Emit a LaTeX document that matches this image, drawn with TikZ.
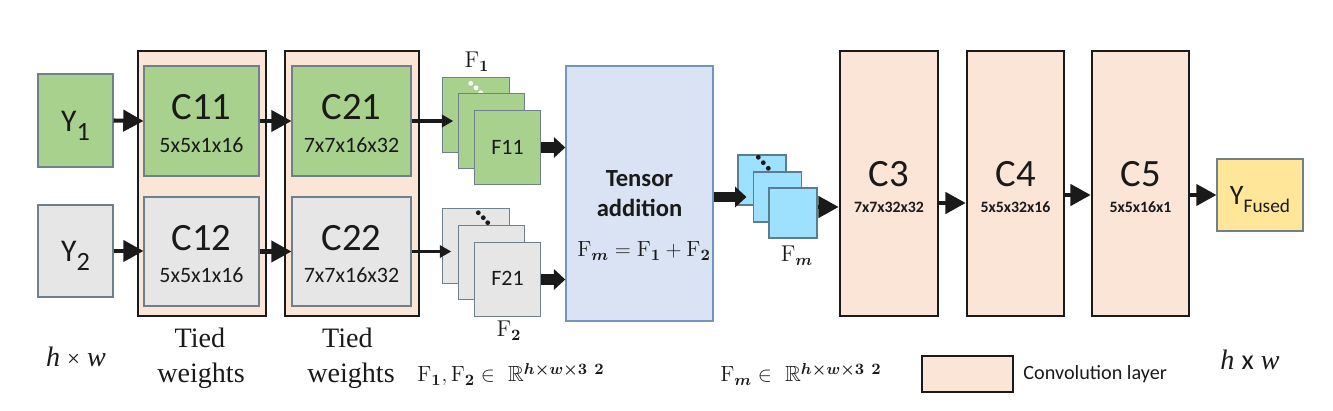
\documentclass[tikz,border=0pt]{standalone}
\usepackage{amsmath}
\usepackage{amssymb}
\usepackage{fontspec}
\usetikzlibrary{arrows.meta}
\newfontfamily\calibri{Carlito}
\newfontfamily\timesish{Liberation Serif}
\definecolor{netink}{HTML}{1A1A1A}
\definecolor{edgegray}{HTML}{6F7F8C}
\definecolor{inputgreen}{HTML}{A9D18E}
\definecolor{inputgray}{HTML}{E7E6E6}
\definecolor{convpeach}{HTML}{FBE5D6}
\definecolor{addblue}{HTML}{DAE3F3}
\definecolor{addedge}{HTML}{7393C0}
\definecolor{mapcyan}{HTML}{9DE1FE}
\definecolor{mapedge}{HTML}{5B7D91}
\definecolor{fusedyellow}{HTML}{FFE699}
\newcommand{\sansat}[1]{\calibri\fontsize{#1}{#1}\selectfont}
\newcommand{\serifat}[1]{\fontsize{#1}{#1}\selectfont}
\newcommand{\timesat}[1]{\timesish\fontsize{#1}{#1}\selectfont}
\newcommand{\Fsub}[1]{\mathrm{F}_{\boldsymbol{#1}}}

\begin{document}
\begin{tikzpicture}[
  x=0.02cm,
  y=-0.02cm,
  every node/.style={netink},
  box/.style={draw=edgegray, line width=0.6pt, inner sep=0pt},
  tied/.style={draw=netink, line width=1.5pt, fill=convpeach, inner sep=0pt},
  sheet/.style={draw=edgegray, line width=0.6pt, inner sep=0pt,
    minimum width=1.33cm, minimum height=1.49cm},
  fmsheet/.style={draw=mapedge, line width=0.6pt, fill=mapcyan, inner sep=0pt,
    minimum width=0.96cm, minimum height=1.0cm},
  txt/.style={anchor=base, inner sep=0pt},
  conn/.style={netink, line width=2.3pt, -{Triangle[length=11.5pt, width=12pt]}},
  thinconn/.style={netink, line width=2pt, -{Triangle[length=6.5pt, width=7pt]}},
  blockconn/.style={netink, line width=6pt, -{Triangle[length=6.5pt, width=11.5pt]}}
]
  \useasboundingbox (0,0) rectangle (1333,411);

  % ================= inputs =============================================
  \node[box, fill=inputgreen, minimum width=1.50cm, minimum height=1.86cm]
    (Y1) at (75.5,120.5) {};
  \node[box, fill=inputgray, minimum width=1.50cm, minimum height=1.84cm]
    (Y2) at (75.5,251) {};
  \node[txt, font=\sansat{18}] (Y1lbl) at (75.5,132)
    {Y\raisebox{-5pt}{\fontsize{15}{15}\selectfont 1}};
  \node[txt, font=\sansat{18}] (Y2lbl) at (75.5,262)
    {Y\raisebox{-5pt}{\fontsize{15}{15}\selectfont 2}};

  % ================= tied convolution pairs =============================
  \node[tied, minimum width=2.56cm, minimum height=5.30cm] (G1) at (202,183.5) {};
  \node[tied, minimum width=2.68cm, minimum height=5.30cm] (G2) at (352,183.5) {};

  \node[box, fill=inputgreen, minimum width=2.30cm, minimum height=2.20cm]
    (C11) at (201.5,121) {};
  \node[box, fill=inputgray, minimum width=2.30cm, minimum height=2.18cm]
    (C12) at (201.5,251.5) {};
  \node[box, fill=inputgreen, minimum width=2.38cm, minimum height=2.20cm]
    (C21) at (351.5,121) {};
  \node[box, fill=inputgray, minimum width=2.38cm, minimum height=2.18cm]
    (C22) at (351.5,251.5) {};

  \node[txt, font=\sansat{22}] (C11name) at (201.5,120) {C11};
  \node[txt, font=\sansat{12.5}] (C11dim) at (201.5,153) {5x5x1x16};
  \node[txt, font=\sansat{22}] (C12name) at (201.5,251) {C12};
  \node[txt, font=\sansat{12.5}] (C12dim) at (201.5,283) {5x5x1x16};
  \node[txt, font=\sansat{22}] (C21name) at (351.5,120) {C21};
  \node[txt, font=\sansat{12.5}] (C21dim) at (351.5,153) {7x7x16x32};
  \node[txt, font=\sansat{22}] (C22name) at (351.5,251) {C22};
  \node[txt, font=\sansat{12.5}] (C22dim) at (351.5,283) {7x7x16x32};

  % ================= feature map stacks =================================
  \node[sheet, fill=inputgreen] (F1a) at (476,115) {};
  \foreach \p in {(470.7,83.3), (476,87.8), (480.7,92.7)}
    \fill[white] \p circle (0.048cm);
  \node[sheet, fill=inputgreen] (F1b) at (491.5,131) {};
  \node[sheet, fill=inputgreen] (F1c) at (507.5,147.5) {};
  \node[txt, font=\sansat{12.5}] (F11lbl) at (507.5,155) {F11};

  \node[sheet, fill=inputgray] (F2a) at (476,246) {};
  \foreach \p in {(478.3,212.7), (483.3,217.7), (487.7,222.7)}
    \fill[netink] \p circle (0.048cm);
  \node[sheet, fill=inputgray] (F2b) at (491.5,262.5) {};
  \node[sheet, fill=inputgray] (F2c) at (507.5,279.5) {};
  \node[txt, font=\sansat{12.5}] (F21lbl) at (507.5,286) {F21};

  \node[txt, font=\serifat{13}] (F1lbl) at (477,68) {$\Fsub{1}$};
  \node[txt, font=\serifat{13}] (F2lbl) at (509,337) {$\Fsub{2}$};

  % ================= tensor addition ====================================
  \node[draw=addedge, line width=0.8pt, fill=addblue, inner sep=0pt,
        minimum width=2.94cm, minimum height=5.10cm] (T) at (639.5,193.5) {};
  \node[txt, font=\sansat{14}\bfseries] (Tline1) at (639.5,187) {Tensor};
  \node[txt, font=\sansat{14}\bfseries] (Tline2) at (639.5,217) {addition};
  \node[txt, font=\serifat{12.5}] (Tsum) at (644,257)
    {$\Fsub{m} = \Fsub{1} + \Fsub{2}$};

  % ================= fused maps =========================================
  \node[fmsheet] (Fma) at (762,180) {};
  \foreach \p in {(758.3,157.3), (763.3,162.7), (768.3,168.3)}
    \fill[netink] \p circle (0.048cm);
  \node[fmsheet] (Fmb) at (777.5,197) {};
  \node[fmsheet] (Fmc) at (793,213) {};
  \node[txt, font=\serifat{13}] (Fmlbl) at (797,262) {$\Fsub{m}$};

  % ================= reconstruction layers ==============================
  \node[tied, minimum width=1.96cm, minimum height=5.30cm] (C3) at (889,183.5) {};
  \node[tied, minimum width=1.94cm, minimum height=5.30cm] (C4) at (1015.5,183.5) {};
  \node[tied, minimum width=1.94cm, minimum height=5.30cm] (C5) at (1140.5,183.5) {};
  \node[txt, font=\sansat{22}] (C3name) at (889,187) {C3};
  \node[txt, font=\sansat{9}\bfseries] (C3dim) at (889,213) {7x7x32x32};
  \node[txt, font=\sansat{22}] (C4name) at (1015.5,187) {C4};
  \node[txt, font=\sansat{9}\bfseries] (C4dim) at (1015.5,213) {5x5x32x16};
  \node[txt, font=\sansat{22}] (C5name) at (1140.5,187) {C5};
  \node[txt, font=\sansat{9}\bfseries] (C5dim) at (1140.5,213) {5x5x16x1};

  \node[box, fill=fusedyellow, minimum width=1.72cm, minimum height=1.44cm]
    (YF) at (1260,195) {};
  \node[txt, font=\sansat{16}] (YFlbl) at (1260,205)
    {Y\raisebox{-4pt}{\fontsize{11}{11}\selectfont Fused}};

  % ================= connectors =========================================
  \draw[conn] (Y1.east) -- (C11.west);
  \draw[conn] (Y2.east) -- (Y2.east -| C12.west);
  \draw[conn] (C11.east) -- (C21.west);
  \draw[conn] (C12.east) -- (C22.west);
  \draw[thinconn] (C21.east) -- ([xshift=0.22cm]C21.east -| F1a.west);
  \draw[thinconn, line width=1.4pt] (C22.east) -- ([xshift=0.18cm]C22.east -| F2a.west);
  \draw[blockconn] (F1c.east) -- (F1c.east -| T.west);
  \draw[blockconn] (F2c.east) -- (F2c.east -| T.west);
  \draw[blockconn] (Fmb.west -| T.east) -- ([xshift=-0.13cm]Fmb.west);
  \draw[conn] ([yshift=0.12cm]Fmc.east) -- ([yshift=0.12cm]Fmc.east -| C3.west);
  \draw[conn] ([yshift=-0.16cm]YF.west -| C3.east) -- ([yshift=-0.16cm]YF.west -| C4.west);
  \draw[conn] (YF.west -| C4.east) -- (YF.west -| C5.west);
  \draw[conn] (YF.west -| C5.east) -- (YF.west);

  % ================= captions and legend ================================
  \node[txt, font=\timesat{16}] (hwleft) at (76,367)
    {\itshape h {\upshape\fontsize{13}{13}\selectfont ×} w};
  \node[txt, font=\timesat{16}] (tied1a) at (200,348) {Tied};
  \node[txt, font=\timesat{16}] (tied1b) at (201,383) {weights};
  \node[txt, font=\timesat{16}] (tied2a) at (347.5,348) {Tied};
  \node[txt, font=\timesat{16}] (tied2b) at (351,383) {weights};
  \node[txt, anchor=base west, font=\serifat{12.5}] (Fspace) at (417,382)
    {$\Fsub{1}, \Fsub{2} \in\ \mathbb{R}^{\boldsymbol{h\times w\times 3\ 2}}$};
  \node[txt, anchor=base west, font=\serifat{12.5}] (Fmspace) at (720,382)
    {$\Fsub{m} \in\ \mathbb{R}^{\boldsymbol{h\times w\times 3\ 2}}$};
  \node[tied, minimum width=1.82cm, minimum height=0.72cm] (legbox) at (967.5,374) {};
  \node[txt, anchor=base west, font=\sansat{11.5}] (legtext) at (1023,380)
    {Convolution layer};
  \node[txt, font=\timesat{16}] (hwright) at (1250,370)
    {\itshape h {\upshape\calibri x} w};
\end{tikzpicture}
\end{document}
